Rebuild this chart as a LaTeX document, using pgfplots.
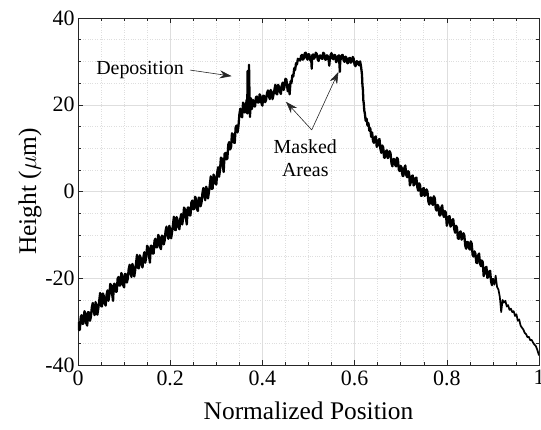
\documentclass[border=0pt]{standalone}
\usepackage{pgfplots}
\pgfplotsset{compat=1.18}
\usepackage{fontspec}
\setmainfont{Liberation Serif}
\usetikzlibrary{arrows.meta}
\definecolor{gridc}{RGB}{222,222,222}
\definecolor{axc}{RGB}{38,38,38}
\begin{document}
\begin{tikzpicture}
\begin{axis}[
  name=ax, at={(0,0)}, anchor=south west,
  scale only axis, width=461bp, height=347bp,
  xmin=0, xmax=1, ymin=-40, ymax=40,
  xtick={0,0.2,0.4,0.6,0.8,1}, xticklabels={0,0.2,0.4,0.6,0.8,1},
  ytick={-40,-20,0,20,40}, yticklabels={-40,-20,0,20,40},
  minor tick num=3,
  grid=both,
  major grid style={gridc, line width=0.5pt},
  minor grid style={gridc, dotted, line width=0.6pt},
  tick align=inside,
  major tick length=5bp, minor tick length=3bp,
  every tick/.style={axc, line width=0.5pt},
  axis line style={axc, line width=0.6pt},
  tick label style={font=\fontsize{22}{26}\selectfont, text=black},
  xticklabel style={yshift=-2bp},
  label style={font=\fontsize{25.5}{30}\selectfont},
  xlabel={Normalized Position},
  ylabel={Height ($\mu$m)},
  xlabel style={at={(axis description cs:0.5,-0.1326)}, anchor=center},
  ylabel style={at={(axis description cs:-0.104,0.5)}, anchor=center},
]
\addplot[black, line width=2.3pt, line join=round] table {
x y
0 -30.1
0.002 -31.9
0.004 -31.9
0.006 -28.9
0.008 -28.5
0.010 -30.5
0.012 -30.4
0.014 -27.6
0.016 -28.1
0.018 -30.4
0.020 -30.9
0.022 -27.8
0.024 -27.9
0.026 -29.8
0.028 -28.9
0.030 -26.7
0.032 -25.7
0.034 -27.6
0.036 -28.5
0.038 -25.5
0.040 -26.3
0.042 -28.4
0.044 -27.0
0.046 -25.3
0.048 -23.4
0.050 -26.4
0.052 -26.5
0.054 -23.5
0.056 -24.1
0.058 -25.8
0.060 -26.3
0.062 -23.8
0.064 -22.8
0.066 -25.2
0.068 -23.9
0.070 -21.3
0.072 -21.7
0.074 -23.6
0.076 -25.2
0.078 -21.3
0.080 -21.3
0.082 -23.1
0.084 -23.1
0.086 -20.1
0.088 -19.7
0.090 -21.7
0.092 -21.6
0.094 -18.8
0.096 -19.3
0.098 -21.6
0.100 -22.1
0.102 -19.0
0.104 -19.1
0.106 -21.0
0.108 -20.1
0.110 -17.9
0.112 -16.9
0.114 -18.8
0.116 -19.7
0.118 -16.7
0.120 -17.5
0.122 -19.6
0.124 -18.2
0.126 -16.5
0.128 -14.6
0.130 -17.6
0.132 -17.7
0.134 -14.7
0.136 -15.3
0.138 -17.0
0.140 -17.5
0.142 -15.0
0.144 -14.0
0.146 -16.4
0.148 -15.1
0.150 -12.5
0.152 -12.9
0.154 -14.8
0.156 -16.4
0.158 -12.5
0.160 -12.5
0.162 -14.3
0.164 -14.3
0.166 -11.3
0.168 -10.9
0.170 -12.9
0.172 -12.8
0.174 -10.0
0.176 -10.5
0.178 -12.8
0.180 -13.3
0.182 -10.2
0.184 -10.3
0.186 -12.2
0.188 -11.3
0.190 -9.1
0.192 -8.1
0.194 -10.0
0.196 -10.9
0.198 -7.9
0.200 -8.7
0.202 -10.8
0.204 -9.4
0.206 -7.7
0.208 -5.8
0.210 -8.8
0.212 -8.9
0.214 -5.9
0.216 -6.5
0.218 -8.2
0.220 -8.7
0.222 -6.2
0.224 -5.2
0.226 -7.6
0.228 -6.3
0.230 -3.7
0.232 -4.1
0.234 -6.0
0.236 -7.6
0.238 -3.7
0.240 -3.7
0.242 -5.5
0.244 -5.5
0.246 -2.5
0.248 -2.1
0.250 -4.1
0.252 -4.0
0.254 -1.2
0.256 -1.7
0.258 -4.0
0.260 -4.5
0.262 -1.4
0.264 -1.5
0.266 -3.4
0.268 -2.5
0.270 -0.3
0.272 0.8
0.274 -1.0
0.276 -2.0
0.278 1.1
0.280 0.4
0.282 -1.6
0.284 -0.1
0.286 1.5
0.288 3.5
0.290 0.6
0.292 0.7
0.294 3.9
0.296 3.4
0.298 1.9
0.300 1.6
0.302 4.4
0.304 5.6
0.306 3.4
0.308 4.9
0.310 7.8
0.312 7.6
0.314 6.0
0.316 4.5
0.318 8.7
0.320 8.9
0.322 7.4
0.324 7.6
0.326 10.8
0.328 11.4
0.330 9.7
0.332 10.2
0.334 13.4
0.336 13.2
0.338 11.3
0.340 11.2
0.342 14.8
0.344 15.2
0.346 13.6
0.348 15.0
0.350 17.7
0.352 19.1
0.354 17.6
0.356 17.1
0.358 20.5
0.360 20.1
0.362 18.2
0.364 19.7
0.366 21.2
0.367 18.0
0.368 27.8
0.369 20.5
0.370 18.6
0.371 29.2
0.372 22.0
0.373 17.2
0.375 21.5
0.377 19.0
0.380 21.1
0.382 19.7
0.384 19.6
0.386 21.7
0.388 21.9
0.390 20.5
0.392 20.5
0.394 22.4
0.396 22.0
0.398 20.3
0.400 19.8
0.402 22.1
0.404 22.0
0.406 20.6
0.408 21.1
0.410 22.7
0.412 23.3
0.414 22.1
0.416 21.3
0.418 23.4
0.420 22.9
0.422 21.3
0.424 22.3
0.426 23.4
0.428 24.6
0.430 22.6
0.432 22.4
0.434 24.6
0.436 24.2
0.438 23.0
0.440 22.5
0.442 24.4
0.444 25.1
0.446 23.4
0.448 24.2
0.450 26.0
0.452 25.8
0.455 23.1
0.457 24.6
0.459 22.4
0.461 25.4
0.463 25.0
0.465 26.8
0.467 26.5
0.469 28.4
0.471 28.0
0.473 29.6
0.475 29.3
0.477 30.6
0.480 30.3
0.482 30.2
0.484 31.3
0.486 31.5
0.488 30.4
0.490 30.7
0.492 31.9
0.494 32.0
0.496 30.8
0.498 30.4
0.500 31.7
0.502 31.5
0.504 30.2
0.506 30.3
0.507 28.3
0.508 31.4
0.510 31.6
0.512 30.6
0.514 31.0
0.516 32.0
0.518 31.7
0.520 30.4
0.522 30.1
0.524 31.3
0.526 31.4
0.528 30.7
0.530 30.6
0.532 32.0
0.534 31.8
0.536 30.4
0.538 30.4
0.540 31.4
0.542 31.2
0.544 30.1
0.545 29.0
0.546 30.2
0.548 31.5
0.550 31.9
0.552 30.7
0.554 30.5
0.556 31.5
0.558 31.4
0.560 29.8
0.562 30.2
0.564 31.2
0.566 31.4
0.568 27.6
0.569 30.7
0.570 30.4
0.572 31.4
0.574 31.5
0.576 30.3
0.578 29.9
0.580 31.1
0.582 30.9
0.584 29.6
0.586 29.6
0.588 30.7
0.590 30.8
0.592 29.7
0.594 30.0
0.596 31.0
0.598 30.6
0.600 29.2
0.602 28.9
0.604 30.0
0.606 30.0
0.608 29.3
0.610 29.1
0.612 30.0
0.614 28.8
0.616 27.0
0.617 24.5
0.618 23.5
0.619 21.0
0.620 20.2
0.621 18.6
0.622 18.2
0.624 16.3
0.626 16.8
0.628 15.2
0.630 15.8
0.632 14.0
0.634 14.6
0.636 12.6
0.638 13.6
0.640 11.6
0.642 11.2
0.644 12.5
0.646 12.7
0.648 10.3
0.650 10.6
0.652 11.9
0.654 12.1
0.656 9.8
0.658 8.9
0.660 10.6
0.662 10.2
0.664 7.8
0.666 7.8
0.668 9.3
0.670 9.5
0.672 7.7
0.674 8.1
0.676 9.3
0.678 8.8
0.680 6.5
0.682 5.8
0.684 7.5
0.686 7.5
0.688 6.1
0.690 5.8
0.692 7.8
0.694 7.4
0.696 5.0
0.698 4.7
0.700 5.9
0.702 5.5
0.704 3.6
0.706 3.6
0.708 5.5
0.710 6.0
0.712 3.8
0.714 3.3
0.716 4.7
0.718 4.4
0.720 1.4
0.722 2.2
0.724 3.5
0.726 3.7
0.728 1.4
0.730 1.7
0.732 3.1
0.734 3.2
0.736 1.0
0.738 0.2
0.740 1.9
0.742 1.5
0.744 -1.0
0.746 -1.0
0.748 0.6
0.750 0.8
0.752 -1.0
0.754 -0.7
0.756 0.5
0.758 0.0
0.760 -2.3
0.762 -3.0
0.764 -1.4
0.766 -1.4
0.768 -2.8
0.770 -3.1
0.772 -1.1
0.774 -1.6
0.776 -4.0
0.778 -4.4
0.780 -3.1
0.782 -3.5
0.784 -5.5
0.786 -5.5
0.788 -3.7
0.790 -3.2
0.792 -5.3
0.794 -5.9
0.796 -4.5
0.798 -4.9
0.800 -7.9
0.802 -7.2
0.804 -5.8
0.806 -5.7
0.808 -8.1
0.810 -7.8
0.812 -6.5
0.814 -6.4
0.816 -8.6
0.818 -9.5
0.820 -7.9
0.822 -8.3
0.824 -10.8
0.826 -10.9
0.828 -9.4
0.830 -9.2
0.832 -11.1
0.834 -10.8
0.836 -9.6
0.838 -10.1
0.840 -12.5
0.842 -13.2
0.844 -11.6
0.846 -11.7
0.848 -13.0
0.850 -13.4
0.852 -11.5
0.854 -12.0
0.856 -14.6
0.858 -15.0
0.860 -13.8
0.862 -14.3
0.864 -16.4
0.866 -16.5
0.868 -14.7
0.870 -14.3
0.872 -16.6
0.874 -17.2
0.876 -15.9
0.878 -16.3
0.880 -19.5
0.882 -18.8
0.884 -17.5
0.886 -17.4
0.888 -19.9
0.890 -19.7
0.892 -18.4
0.894 -18.3
0.896 -20.7
0.898 -21.6
0.900 -20.0
};
\addplot[black, line width=1.7pt, line join=round] table {
x y
0.900 -20.0
0.903 -21.5
0.906 -19.4
0.909 -22.0
0.912 -22.6
0.915 -24.3
0.918 -27.8
0.921 -25.0
0.924 -25.6
0.927 -25.2
0.930 -26.5
0.933 -26.2
0.936 -27.3
0.939 -27.0
0.942 -27.8
0.945 -27.6
0.948 -28.7
0.951 -28.3
0.954 -29.8
0.957 -29.5
0.960 -30.9
0.963 -31.4
0.966 -31.8
0.969 -32.6
0.972 -32.9
0.975 -33.6
0.978 -33.5
0.981 -34.3
0.984 -34.2
0.987 -34.8
0.990 -35.3
0.993 -35.6
0.996 -36.4
1.000 -37.8
};
\node[font=\fontsize{20}{24}\selectfont] at (axis cs:0.1345,28.0) {Deposition};
\node[font=\fontsize{20}{23.5}\selectfont, align=center] at (axis cs:0.493,7.7) {Masked\\Areas};
\draw[axc, line width=0.6pt, -{Stealth[length=12bp,width=8bp]}] (axis cs:0.243,28.0) -- (axis cs:0.3334,26.6);
\draw[axc, line width=0.6pt, -{Stealth[length=12bp,width=8bp]}] (axis cs:0.507,14.2) -- (axis cs:0.451,20.7);
\draw[axc, line width=0.6pt, -{Stealth[length=12bp,width=8bp]}] (axis cs:0.507,14.2) -- (axis cs:0.565,27.6);
\end{axis}
\pgfresetboundingbox
\path (-78bp,-65bp) rectangle (463bp,365bp);
\end{tikzpicture}
\end{document}
